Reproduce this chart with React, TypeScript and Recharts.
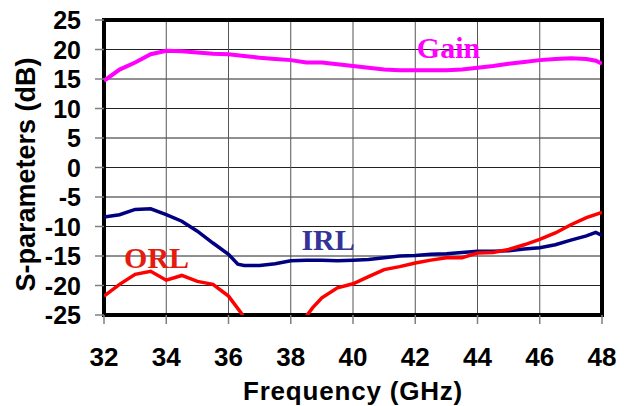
import React from 'react';
import { LineChart, Line, XAxis, YAxis, CartesianGrid, ReferenceArea, ReferenceDot, Label } from 'recharts';

const X_TICKS = [32, 34, 36, 38, 40, 42, 44, 46, 48];
const Y_TICKS = [-25, -20, -15, -10, -5, 0, 5, 10, 15, 20, 25];

const GAIN_F = [32, 32.5, 33, 33.5, 34, 34.5, 35, 35.5, 36, 36.5, 37, 37.5, 38, 38.5, 39, 39.5, 40, 40.5, 41, 41.5, 42, 42.5, 43, 43.5, 44, 44.5, 45, 45.5, 46, 46.5, 47, 47.5, 47.8, 48];
const GAIN = [14.7, 16.6, 17.8, 19.2, 19.8, 19.7, 19.5, 19.3, 19.2, 18.9, 18.6, 18.4, 18.2, 17.8, 17.8, 17.5, 17.2, 16.9, 16.6, 16.5, 16.5, 16.5, 16.5, 16.6, 16.9, 17.2, 17.6, 17.9, 18.2, 18.4, 18.5, 18.4, 18.1, 17.6];

const IRL_F = [32, 32.5, 33, 33.5, 34, 34.5, 35, 35.5, 36, 36.3, 36.5, 37, 37.5, 38, 38.5, 39, 39.5, 40, 40.5, 41, 41.5, 42, 42.5, 43, 43.5, 44, 44.5, 45, 45.5, 46, 46.5, 47, 47.5, 47.8, 48];
const IRL = [-8.4, -8.0, -7.1, -7.0, -8.0, -9.1, -10.8, -12.8, -14.7, -16.4, -16.6, -16.6, -16.3, -15.8, -15.7, -15.7, -15.8, -15.7, -15.6, -15.3, -15.0, -14.9, -14.7, -14.6, -14.4, -14.2, -14.2, -14.1, -13.8, -13.6, -13.1, -12.3, -11.6, -11.0, -11.5];

const ORL_F = [32, 32.5, 33, 33.5, 34, 34.5, 35, 35.5, 36, 36.4, 36.8, 37.5, 38.2, 38.5, 38.7, 39, 39.5, 40, 40.5, 41, 41.5, 42, 42.5, 43, 43.5, 44, 44.5, 45, 45.5, 46, 46.5, 47, 47.5, 48];
const ORL = [-21.8, -19.8, -18.1, -17.6, -19.1, -18.3, -19.3, -19.8, -21.8, -24.6, -28, -31, -28, -25.2, -23.8, -22.1, -20.4, -19.7, -18.5, -17.3, -16.8, -16.2, -15.7, -15.3, -15.3, -14.5, -14.4, -13.9, -13.1, -12.2, -11.1, -9.7, -8.5, -7.6];

const SERIES_LABELS = [
  { text: 'Gain', f: 43.07, v: 18.6, color: '#FF00FF' },
  { text: 'IRL', f: 39.2, v: -13.9, color: '#333399' },
  { text: 'ORL', f: 33.69, v: -17.1, color: '#E41B0E' },
];

const gainData = GAIN_F.map((f, i) => ({ f, v: GAIN[i] }));
const irlData = IRL_F.map((f, i) => ({ f, v: IRL[i] }));
const orlData = ORL_F.map((f, i) => ({ f, v: ORL[i] }));

const SANS = '"Liberation Sans", Arial, sans-serif';
const SERIF = '"Liberation Serif", "Times New Roman", serif';

const XTick = (props: any) => {
  const { x, y, payload } = props;
  return (
    <text x={x} y={y + 40} textAnchor="middle" fontFamily={SANS} fontWeight="bold" fontSize={26} fill="#000">
      {payload.value}
    </text>
  );
};

const YTick = (props: any) => {
  const { x, y, payload } = props;
  return (
    <text x={x - 12} y={y + 9} textAnchor="end" fontFamily={SANS} fontWeight="bold" fontSize={25} fill="#000">
      {payload.value}
    </text>
  );
};

export default function App() {
  return (
    <div style={{ position: 'absolute', left: 0, top: 0, width: 630, height: 406, background: '#fff' }}>
      <LineChart width={630} height={406} margin={{ top: 20, right: 28, left: 24, bottom: 0 }}>
        <CartesianGrid stroke="#222" strokeWidth={1} vertical={false} />
        <CartesianGrid stroke="#555" strokeWidth={1} horizontal={false} />
        <XAxis
          dataKey="f"
          type="number"
          domain={[32, 48]}
          ticks={X_TICKS}
          allowDataOverflow
          height={91}
          tickSize={9}
          tickLine={{ stroke: '#808080', strokeWidth: 1.5 }}
          axisLine={false}
          tick={<XTick />}
        >
          <Label
            content={(p: any) => {
              const vb = p.viewBox;
              return (
                <text x={vb.x + vb.width / 2} y={400} textAnchor="middle" fontFamily={SANS} fontWeight="bold" fontSize={26} letterSpacing={0.8} fill="#000">
                  Frequency (GHz)
                </text>
              );
            }}
          />
        </XAxis>
        <YAxis
          type="number"
          domain={[-25, 25]}
          ticks={Y_TICKS}
          allowDataOverflow
          width={80}
          tickSize={9}
          tickLine={{ stroke: '#808080', strokeWidth: 1.5 }}
          axisLine={false}
          tick={<YTick />}
        >
          <Label
            content={(p: any) => {
              const vb = p.viewBox;
              const cy = vb.y + vb.height / 2 + 7;
              return (
                <text x={35} y={cy} transform={`rotate(-90 35 ${cy})`} textAnchor="middle" fontFamily={SANS} fontWeight="bold" fontSize={27} fill="#000">
                  S-parameters (dB)
                </text>
              );
            }}
          />
        </YAxis>
        <Line data={gainData} dataKey="v" type="linear" stroke="#FF00FF" strokeWidth={4} dot={false} activeDot={false} isAnimationActive={false} />
        <Line data={irlData} dataKey="v" type="linear" stroke="#000080" strokeWidth={3.5} dot={false} activeDot={false} isAnimationActive={false} />
        <Line data={orlData} dataKey="v" type="linear" stroke="#FF0000" strokeWidth={3.5} dot={false} activeDot={false} isAnimationActive={false} />
        <ReferenceArea x1={32} x2={48} y1={-25} y2={25} fill="none" stroke="#000" strokeWidth={4} ifOverflow="visible" />
        {SERIES_LABELS.map((l) => (
          <ReferenceDot
            key={l.text}
            x={l.f}
            y={l.v}
            r={0}
            ifOverflow="visible"
            shape={(p: any) => (
              <text x={p.cx} y={p.cy} textAnchor="middle" fontFamily={SERIF} fontWeight="bold" fontSize={30} fill={l.color}>
                {l.text}
              </text>
            )}
          />
        ))}
      </LineChart>
    </div>
  );
}
